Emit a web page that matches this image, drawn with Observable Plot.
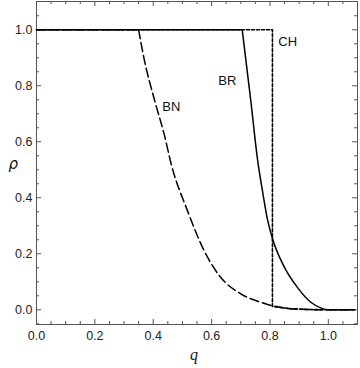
<!DOCTYPE html>
<html>
<head>
<meta charset="utf-8">
<script src="https://cdn.jsdelivr.net/npm/d3@7"></script>
<script src="https://cdn.jsdelivr.net/npm/@observablehq/plot@0.6"></script>
<style>
  html, body { margin: 0; padding: 0; background: #fff; }
  #chart svg { display: block; }
</style>
</head>
<body>
<div id="chart"></div>
<script>
// Curve BN (long dashes)
const bnFlatQ = [0, 0.35];
const bnFlatR = [1, 1];
const bnQ = [0.35, 0.368, 0.408, 0.437, 0.463, 0.517, 0.574, 0.631, 0.70, 0.768, 0.814, 0.87, 0.93, 1.0, 1.09];
const bnR = [1, 0.90, 0.736, 0.629, 0.515, 0.355, 0.212, 0.116, 0.057, 0.027, 0.013, 0.004, 0.001, 0, 0];
// Curve BR (solid)
const brFlatQ = [0, 0.705];
const brFlatR = [1, 1];
const brQ = [0.705, 0.72, 0.734, 0.757, 0.775, 0.79, 0.81, 0.848, 0.894, 0.94, 0.974, 1.0, 1.09];
const brR = [1, 0.87, 0.75, 0.54, 0.42, 0.33, 0.25, 0.155, 0.08, 0.027, 0.007, 0, 0];
// Curve CH (short dashes)
const chQ = [0, 0.8085, 0.8085, 0.87, 0.93, 1.0, 1.09];
const chR = [1, 1, 0.012, 0.004, 0.001, 0, 0];
// Labels
const labelNames = ["BN", "BR", "CH"];
const labelQ = [0.462, 0.654, 0.861];
const labelR = [0.724, 0.816, 0.957];
// Ticks
const majorTicksX = [0, 0.2, 0.4, 0.6, 0.8, 1.0];
const minorTicksX = [0.05, 0.1, 0.15, 0.25, 0.3, 0.35, 0.45, 0.5, 0.55, 0.65, 0.7, 0.75, 0.85, 0.9, 0.95, 1.05];
const majorTicksY = [0, 0.2, 0.4, 0.6, 0.8, 1.0];
const minorTicksY = [-0.05, 0.05, 0.1, 0.15, 0.25, 0.3, 0.35, 0.45, 0.5, 0.55, 0.65, 0.7, 0.75, 0.85, 0.9, 0.95, 1.05];

const zip = (qs, rs) => qs.map((q, i) => ({q, r: rs[i]}));

const W = 360, H = 368;
const mL = 36, mR = 3, mT = 1, mB = 44;
const plotW = W - mL - mR, plotH = H - mT - mB;
const majLen = 5, minLen = 3;
const axisColor = "#555";
const font = "'Liberation Sans', Arial, sans-serif";

const tickMarks = (vals, len) => [
  Plot.tickX(vals, {x: d => d, stroke: axisColor, insetTop: plotH - len}),
  Plot.tickX(vals, {x: d => d, stroke: axisColor, insetBottom: plotH - len})
];
const tickMarksY = (vals, len) => [
  Plot.tickY(vals, {y: d => d, stroke: axisColor, insetRight: plotW - len}),
  Plot.tickY(vals, {y: d => d, stroke: axisColor, insetLeft: plotW - len})
];

const chart = Plot.plot({
  width: W,
  height: H,
  marginLeft: mL,
  marginRight: mR,
  marginTop: mT,
  marginBottom: mB,
  style: {fontFamily: font, fontSize: "12.5px", color: "#222", background: "#fff"},
  x: {domain: [0, 1.1]},
  y: {domain: [-0.0525, 1.101]},
  marks: [
    Plot.axisX({ticks: majorTicksX, tickSize: 0, tickPadding: 7, tickFormat: d3.format(".1f"), label: null, fontSize: 12.5}),
    Plot.axisY({ticks: majorTicksY, tickSize: 0, tickPadding: 4, tickFormat: d3.format(".1f"), label: null, fontSize: 12.5}),
    ...tickMarks(majorTicksX, majLen),
    ...tickMarks(minorTicksX, minLen),
    ...tickMarksY(majorTicksY, majLen),
    ...tickMarksY(minorTicksY, minLen),
    Plot.frame({stroke: axisColor}),
    // BN
    Plot.line(zip(bnFlatQ, bnFlatR), {x: "q", y: "r", stroke: "#000", strokeWidth: 1.5, strokeDasharray: "9,4"}),
    Plot.line(zip(bnQ, bnR), {x: "q", y: "r", stroke: "#000", strokeWidth: 1.5, strokeDasharray: "9,4", curve: "monotone-x"}),
    // CH
    Plot.line(zip(chQ, chR), {x: "q", y: "r", stroke: "#000", strokeWidth: 1.6, strokeDasharray: "3,2", curve: "linear"}),
    // BR
    Plot.line(zip(brFlatQ, brFlatR), {x: "q", y: "r", stroke: "#000", strokeWidth: 1.5}),
    Plot.line(zip(brQ, brR), {x: "q", y: "r", stroke: "#000", strokeWidth: 1.5, curve: "monotone-x"}),
    // Curve labels
    Plot.text(labelNames.map((t, i) => ({t, q: labelQ[i], r: labelR[i]})), {x: "q", y: "r", text: "t", fontSize: 13, fill: "#111"}),
    // Axis labels
    Plot.text(["ρ"], {frameAnchor: "left", dx: -28, dy: 1, fontSize: 15, fontStyle: "italic", fill: "#111", fontFamily: "'DejaVu Sans', sans-serif"}),
    Plot.text(["q"], {frameAnchor: "bottom", dx: -3, dy: 35, fontSize: 16, fontStyle: "italic", fill: "#111", fontFamily: "'Liberation Serif', serif"})
  ]
});
document.getElementById("chart").appendChild(chart);
</script>
</body>
</html>
